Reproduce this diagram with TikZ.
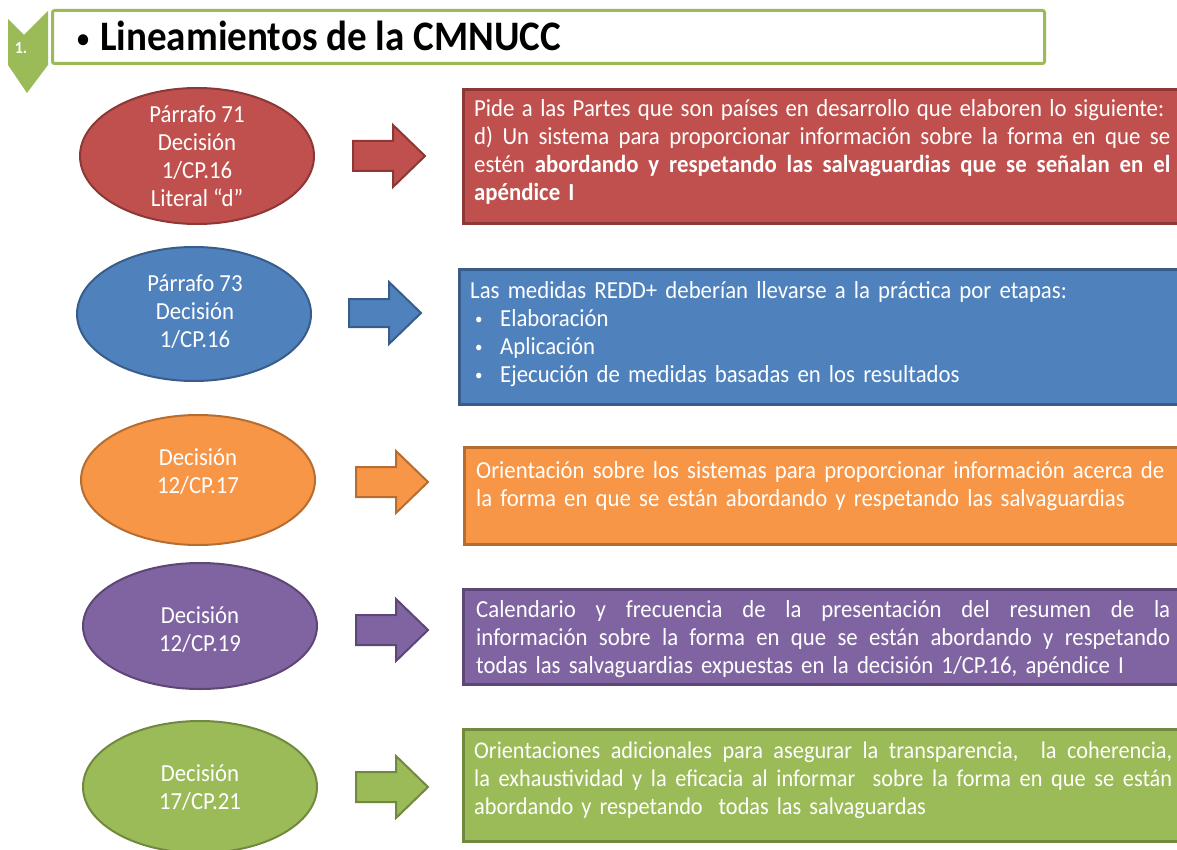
\documentclass[tikz,border=0pt]{standalone}
\usepackage{fontspec}
\newfontfamily\calf{Carlito}[FakeStretch=0.93]
\usetikzlibrary{shapes.geometric}
\definecolor{redF}{HTML}{C0504D}\definecolor{redL}{HTML}{8C3836}
\definecolor{bluF}{HTML}{4F81BD}\definecolor{bluL}{HTML}{385D8A}
\definecolor{oraF}{HTML}{F79646}\definecolor{oraL}{HTML}{B66D31}
\definecolor{purF}{HTML}{8064A2}\definecolor{purL}{HTML}{5C4776}
\definecolor{grnF}{HTML}{9BBB59}\definecolor{grnL}{HTML}{71893F}
\newcommand\st{\rule{0pt}{22pt}}
\newcommand\jl[2]{\leavevmode\hbox to #1{\spaceskip=\fontdimen2\font plus 1fil minus 0.3\fontdimen2\font\relax #2}}
\newcommand\bul{\hspace*{5pt}\makebox[25pt][l]{\raisebox{2pt}{\fontsize{16}{16}\selectfont\textbullet}}}
\begin{document}
\begin{tikzpicture}[x=1pt,y=-1pt,
  ell/.style={ellipse, minimum width=234pt, inner sep=0pt, line width=2pt},
  etx/.style={align=center, text=white, inner sep=0pt, font=\calf\fontsize{24.5}{28}\selectfont},
  bx/.style={rectangle, anchor=north west, inner sep=0pt, line width=3pt, minimum width=730pt},
  tx/.style={anchor=north west, inner sep=0pt, text=white, font=\calf\fontsize{24.5}{28}\selectfont, text width=698pt, align=left},
  barrow/.style={line width=2pt, line join=miter}
]
\useasboundingbox (0,0) rectangle (1177,850);
\clip (0,0) rectangle (1177,850);
% header
\fill[grnF] (8,19) -- (24,35) -- (48,11) -- (48,65) -- (27,93) -- (8,65) -- cycle;
\node[draw=grnF, line width=3pt, fill=white, rounded corners=2pt, anchor=north west, minimum width=992pt, minimum height=53pt, inner sep=0pt] (head) at (51,9) {};
\node[text=white, font=\calf\fontsize{17}{17}\bfseries\selectfont] (num) at (21,48) {1.};
\node[anchor=west, inner sep=0pt, font=\calf\fontsize{42}{42}\bfseries\selectfont] (title) at (77,36) {\raisebox{3pt}{\fontsize{26}{26}\selectfont\textbullet}\hspace{11pt}Lineamientos de la CMNUCC};
% row 1
\node[ell, fill=redF, draw=redL, minimum height=136pt] (e1) at (197,156) {};
\node[etx] (e1t) at (197,156) {Párrafo 71\\Decisión\\1/CP.16\\Literal “d”};
\draw[barrow, fill=redF, draw=redL, shift={(389,156)}] (-36,-15) -- (4,-15) -- (4,-31) -- (36,0) -- (4,31) -- (4,15) -- (-36,15) -- cycle;
\node[bx, fill=redF, draw=redL, minimum height=134pt] (b1) at (462,88) {};
\node[tx] (t1) at (474,94) {\jl{690pt}{\st Pide a las Partes que son países en desarrollo que elaboren lo siguiente:}\\
\jl{696pt}{d) Un sistema para proporcionar información sobre la forma en que se}\\
\jl{696pt}{estén \textbf{abordando y respetando las salvaguardias que se señalan en el}}\\
\textbf{apéndice I}};
% row 2
\node[ell, fill=bluF, draw=bluL, minimum height=134pt] (e2) at (194,314) {};
\node[etx] (e2t) at (195,312) {Párrafo 73\\Decisión\\1/CP.16};
\draw[barrow, fill=bluF, draw=bluL, shift={(385,313)}] (-36,-14) -- (4,-14) -- (4,-31) -- (36,0) -- (4,31) -- (4,14) -- (-36,14) -- cycle;
\node[bx, fill=bluF, draw=bluL, minimum height=135pt] (b2) at (458,268) {};
\node[tx] (t2) at (470,276) {\st Las medidas REDD+ deberían llevarse a la práctica por etapas:\\
\bul Elaboración\\
\bul Aplicación\\
\bul Ejecución de medidas basadas en los resultados};
% row 3
\node[ell, fill=oraF, draw=oraL, minimum height=130pt] (e3) at (198,480) {};
\node[etx] (e3t) at (198,472) {Decisión\\12/CP.17};
\draw[barrow, fill=oraF, draw=oraL, shift={(392,482)}] (-36,-15) -- (4,-15) -- (4,-31) -- (36,0) -- (4,31) -- (4,15) -- (-36,15) -- cycle;
\node[bx, fill=oraF, draw=oraL, minimum height=97pt] (b3) at (463,446) {};
\node[tx] (t3) at (476,456) {\st Orientación sobre los sistemas para proporcionar información acerca de\\la forma en que se están abordando y respetando las salvaguardias};
% row 4
\node[ell, fill=purF, draw=purL, minimum height=126pt] (e4) at (200,626) {};
\node[etx] (e4t) at (200,630) {Decisión\\12/CP.19};
\draw[barrow, fill=purF, draw=purL, shift={(392,630)}] (-36,-15) -- (4,-15) -- (4,-31) -- (36,0) -- (4,31) -- (4,15) -- (-36,15) -- cycle;
\node[bx, fill=purF, draw=purL, minimum height=95pt] (b4) at (462,588) {};
\node[tx] (t4) at (476,595) {\jl{694pt}{\st Calendario y frecuencia de la presentación del resumen de la}\\
\jl{694pt}{información sobre la forma en que se están abordando y respetando}\\
todas las salvaguardias expuestas en la decisión 1/CP.16, apéndice I};
% row 5
\node[ell, fill=grnF, draw=grnL, minimum height=132pt] (e5) at (200,787) {};
\node[etx] (e5t) at (200,788) {Decisión\\17/CP.21};
\draw[barrow, fill=grnF, draw=grnL, shift={(392,787)}] (-36,-15) -- (4,-15) -- (4,-31) -- (36,0) -- (4,31) -- (4,15) -- (-36,15) -- cycle;
\node[bx, fill=grnF, draw=grnL, minimum height=112pt] (b5) at (462,728) {};
\node[tx, font=\calf\fontsize{24}{28}\selectfont] (t5) at (474,736) {\jl{698pt}{\st Orientaciones adicionales para asegurar la transparencia,~ la coherencia,}\\
\jl{698pt}{la exhaustividad y la eficacia al informar~ sobre la forma en que se están}\\
abordando y respetando~ todas las salvaguardas};
\end{tikzpicture}
\end{document}
